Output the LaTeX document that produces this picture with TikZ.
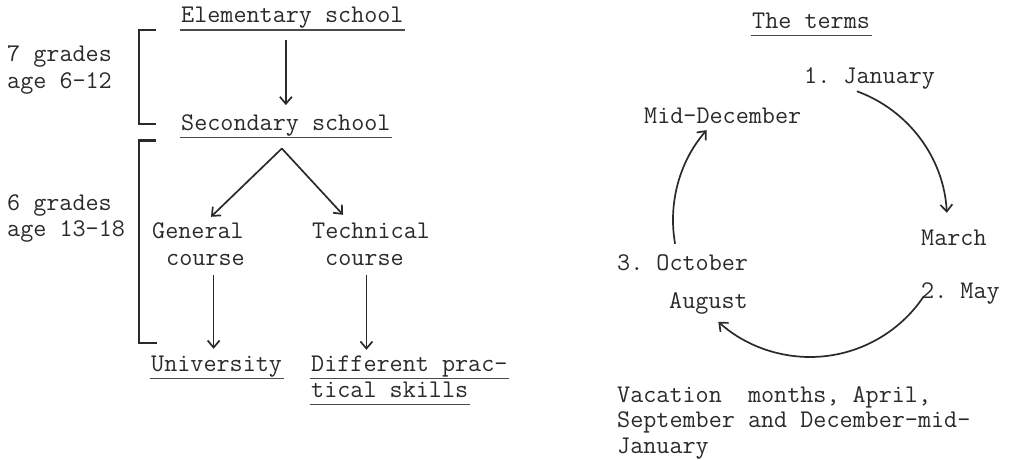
\documentclass[tikz,border=0pt]{standalone}
\usepackage{fontspec}
\usetikzlibrary{arrows.meta,calc}
\definecolor{ink}{HTML}{2A2A2A}
\frenchspacing
\begin{document}
\begin{tikzpicture}[x=1pt,y=1pt,
  lbl/.style={font=\ttfamily\fontsize{25.4}{28}\selectfont, text=ink,
    inner sep=0pt, text height=14pt, text depth=5pt, anchor=base west},
  uline/.style={draw=ink!85, line width=1.2pt},
  ul/.style={lbl, inner xsep=1.5pt, text depth=7pt,
    append after command={(\tikzlastnode.south west) edge[uline] (\tikzlastnode.south east)}},
  arr/.style={draw=ink, line width=1.7pt, -{Straight Barb[length=7pt,width=12pt]}},
  bracket/.style={draw=ink, line width=2.2pt},
]
\useasboundingbox (0,0) rectangle (1011,-459);

% ---------- school system ----------
\node[lbl] (grA) at (7,-61) {7 grades};
\node[lbl] (agA) at (7,-88) {age 6-12};
\node[lbl] (grB) at (7,-210) {6 grades};
\node[lbl] (agB) at (7,-236) {age 13-18};

\node[ul] (elem) at (179.5,-22.7) {Elementary school};
\node[ul] (sec)  at (179.5,-130.3) {Secondary school};
\node[lbl] (gen1)  at (152,-238) {General};
\node[lbl] (gen2)  at (166,-265) {course};
\node[lbl] (tech1) at (312,-238) {Technical};
\node[lbl] (tech2) at (325,-265) {course};
\node[ul] (uni)    at (149.5,-371) {University};
\node[ul] (diff)   at (309.5,-371) {Different prac-};
\node[ul] (skills) at (309.5,-397.5) {tical skills};

% brackets for the grade spans
\draw[bracket] (156,-30) -- (139,-30) -- (139,-124) -- (156,-124);
\draw[bracket] (156,-140.5) -- (139,-140.5) -- (139,-343) -- (157,-343);

% flow arrows
\draw[arr, shorten <=10pt, shorten >=11pt] (elem.south -| sec.north) -- (sec.north);
\coordinate (apex) at ($(sec.south)+(-4,-11)$);
\draw[arr] (apex) -- ($(gen1.north)+(13,7)$);
\draw[arr] (apex) -- ($(tech1.north)+(-28,9)$);
\draw[arr, shorten <=5pt, shorten >=8pt] ([xshift=-3pt]gen2.south -| uni.north) -- ([xshift=-3pt]uni.north);
\draw[arr, shorten <=5pt, shorten >=7pt] ([xshift=2pt]tech2.south) -- ([xshift=2pt]tech2.south |- diff.north);

% ---------- the terms ----------
\node[ul] (terms) at (750.5,-28.5) {The terms};
\node[lbl] (jan) at (804,-83) {1. January};
\node[lbl] (dec) at (644,-123) {Mid-December};
\node[lbl] (mar) at (921,-245) {March};
\node[lbl] (oct) at (617,-270) {3. October};
\node[lbl] (aug) at (669,-308) {August};
\node[lbl] (may) at (921,-298) {2. May};

\coordinate (c) at (810,-220);
\coordinate (t1) at ($(c)+(70:137)$);
\coordinate (t2) at ($(c)+(-34:137)$);
\coordinate (t3) at ($(c)+(190:137)$);
\draw[arr] (t1) arc[start angle=70, end angle=3, radius=137];
\draw[arr] (t2) arc[start angle=-34, end angle=-132, radius=137];
\draw[arr] (t3) arc[start angle=190, end angle=139, radius=137];

\node[lbl] (vac1) at (617,-402) {Vacation\ \ months, April,};
\node[lbl] (vac2) at (617,-427.5) {September and December-mid-};
\node[lbl] (vac3) at (617,-453) {January};
\end{tikzpicture}
\end{document}
